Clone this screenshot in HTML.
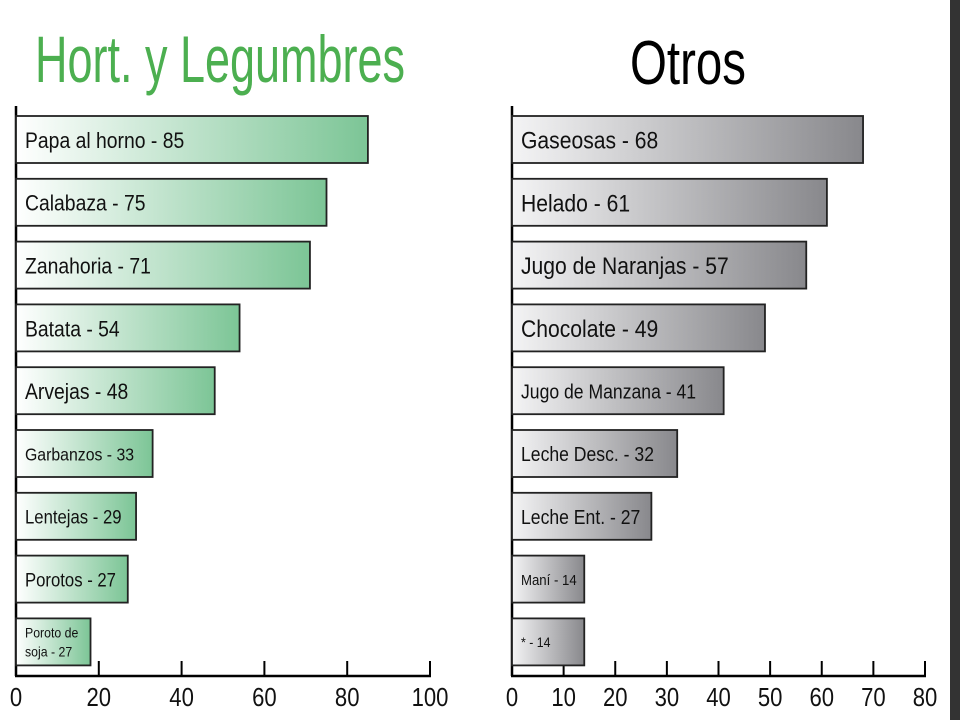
<!DOCTYPE html>
<html><head><meta charset="utf-8"><style>
html,body{margin:0;padding:0;background:#fff;width:960px;height:720px;overflow:hidden}
svg{display:block;font-family:"Liberation Sans",sans-serif}
</style></head><body>
<svg id="svg" width="960" height="720">
<defs>
<linearGradient id="gg" x1="0" x2="1" y1="0" y2="0"><stop offset="0" stop-color="#ffffff"/><stop offset="1" stop-color="#7cc596"/></linearGradient>
<linearGradient id="gr" x1="0" x2="1" y1="0" y2="0"><stop offset="0" stop-color="#f4f4f5"/><stop offset="1" stop-color="#88888c"/></linearGradient>
</defs>
<rect x="950" y="0" width="10" height="720" fill="#333"/>
<text x="35" y="82" font-size="66" fill="#4caf50" textLength="370" lengthAdjust="spacingAndGlyphs">Hort. y Legumbres</text>
<text x="630" y="84" font-size="62" fill="#000" textLength="116" lengthAdjust="spacingAndGlyphs">Otros</text>
</svg>
<script>
const leftCats=["Papa al horno - 85","Calabaza - 75","Zanahoria - 71","Batata - 54","Arvejas - 48","Garbanzos - 33","Lentejas - 29","Porotos - 27","Poroto de|soja - 27"];
const leftVals=[85,75,71,54,48,33,29,27,18];
const leftTicks=[0,20,40,60,80,100];
const rightCats=["Gaseosas - 68","Helado - 61","Jugo de Naranjas - 57","Chocolate - 49","Jugo de Manzana - 41","Leche Desc. - 32","Leche Ent. - 27","Maní - 14","* - 14"];
const rightVals=[68,61,57,49,41,32,27,14,14];
const rightTicks=[0,10,20,30,40,50,60,70,80];

const NS="http://www.w3.org/2000/svg";
const svg=document.getElementById('svg');
function mk(t,a){const e=document.createElementNS(NS,t);for(const k in a)e.setAttribute(k,a[k]);svg.appendChild(e);return e;}
const fontSizes=[22,22,22,22,22,18,19,19,14];
const fontSizesR=[24,24,24,24,20,20,20,15,14];
function drawChart(cats,vals,ticks,x0,x1,max,grad,sizes,prefix){
  const xs=v=>x0+v/max*(x1-x0);
  const yTop=i=>116+i*62.8;
  const axY=676;
  let e=mk('line',{x1:x0,x2:x0,y1:106,y2:axY,stroke:'#000','stroke-width':2.5});
  
  
  e=mk('line',{x1:x0-1,x2:x1+1,y1:axY,y2:axY,stroke:'#000','stroke-width':2.5});
  
  
  ticks.forEach(t=>{
    const x=xs(t);
    let l=mk('line',{x1:x,x2:x,y1:661,y2:axY,stroke:'#000','stroke-width':2});
    
    
    let tx=mk('text',{x:x,y:706,'font-size':26,'text-anchor':'middle',fill:'#111'});
    tx.textContent=t;
    
    
    tx.setAttribute('transform','translate('+x+',0) scale(0.85,1) translate('+(-x)+',0)');
  });
  cats.forEach((c,i)=>{
    const y=yTop(i),h=47;
    let r=mk('rect',{x:x0,y:y,width:xs(vals[i])-x0,height:h,fill:'url(#'+grad+')',stroke:'#222','stroke-width':1.8});
    
    
    const parts=c.split('|');
    const fs=sizes[i];
    parts.forEach((p,j)=>{
      const ty=parts.length>1?y+19+j*19:y+h/2+fs*0.38;
      let t=mk('text',{x:x0+9,y:ty,'font-size':fs,fill:'#111'});
      t.textContent=p;
      t.setAttribute('transform','translate('+(x0+9)+',0) scale(0.88,1) translate('+(-(x0+9))+',0)');
      
      
    });
  });
}
drawChart(leftCats,leftVals,leftTicks,16,430,100,'gg',fontSizes,'left');
drawChart(rightCats,rightVals,rightTicks,512,925,80,'gr',fontSizesR,'right');
</script>
</body></html>
